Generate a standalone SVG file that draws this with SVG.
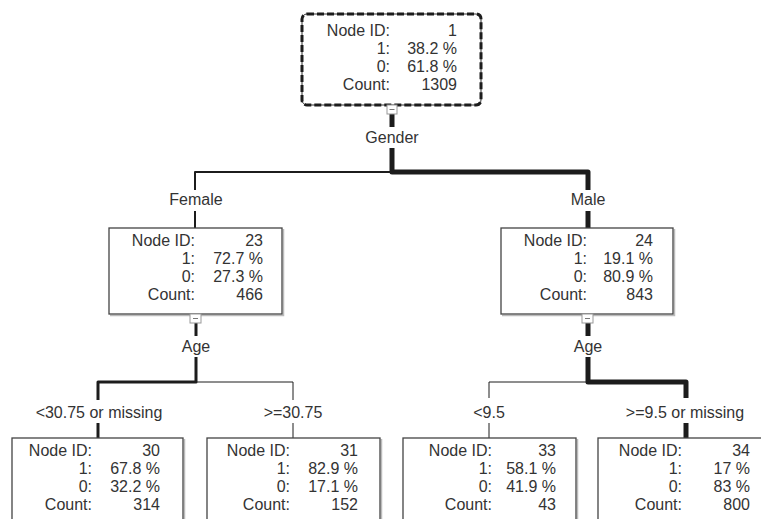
<svg xmlns="http://www.w3.org/2000/svg" width="761" height="519" viewBox="0 0 761 519">
<style>
text{font-family:"Liberation Sans",Arial,sans-serif;font-size:16px;fill:#333}
.l{text-anchor:end}
.c{text-anchor:middle}
.box{fill:#fff;stroke:#444;stroke-width:1.3}
.shadow{fill:none;stroke:#bbb;stroke-width:1.5}
.mb{fill:#fff;stroke:#999;stroke-width:1}
.mm{stroke:#777;stroke-width:1}
.e{fill:none;stroke:#1c1c1c;stroke-linejoin:round}
</style>
<rect width="761" height="519" fill="#fff"/>
<g id="connectors">
<line class="e" x1="392" y1="114" x2="392" y2="127" stroke-width="5"/>
<path class="e" d="M392,172 H195 V190" stroke-width="2"/>
<path class="e" d="M392,148 V172 H588 V190" stroke-width="5"/>
<line class="e" x1="195" y1="211" x2="195" y2="228" stroke-width="2"/>
<line class="e" x1="588" y1="211" x2="588" y2="228" stroke-width="5"/>
<line class="e" x1="196" y1="323" x2="196" y2="336" stroke-width="3"/>
<path class="e" d="M196,382 H293 V400" stroke-width="1"/>
<path class="e" d="M196,357 V382 H98 V400" stroke-width="3"/>
<line class="e" x1="98" y1="423" x2="98" y2="438" stroke-width="3"/>
<line class="e" x1="293" y1="423" x2="293" y2="438" stroke-width="1"/>
<line class="e" x1="588" y1="323" x2="588" y2="336" stroke-width="5"/>
<path class="e" d="M588,382 H489 V398" stroke-width="1"/>
<path class="e" d="M588,357 V382 H686 V398" stroke-width="5"/>
<line class="e" x1="489" y1="423" x2="489" y2="438" stroke-width="1"/>
<line class="e" x1="686" y1="423" x2="686" y2="438" stroke-width="5"/>
<text class="c" x="392" y="143">Gender</text>
<text class="c" x="196" y="205">Female</text>
<text class="c" x="588" y="205">Male</text>
<text class="c" x="196" y="352">Age</text>
<text class="c" x="588" y="352">Age</text>
<text class="c" x="99" y="418">&lt;30.75 or missing</text>
<text class="c" x="293" y="418">&gt;=30.75</text>
<text class="c" x="489" y="418">&lt;9.5</text>
<text class="c" x="685" y="418">&gt;=9.5 or missing</text>
</g>
<g id="node1">
<rect x="302" y="14" width="179" height="91" rx="5" fill="#fff" stroke="#333" stroke-width="1"/>
<rect x="302" y="14" width="179" height="91" rx="5" fill="none" stroke="#1c1c1c" stroke-width="3" stroke-dasharray="7 3"/>
<text class="l" x="390" y="36">Node ID:</text><text class="l" x="457" y="36">1</text>
<text class="l" x="390" y="54">1:</text><text class="l" x="457" y="54">38.2 %</text>
<text class="l" x="390" y="72">0:</text><text class="l" x="457" y="72">61.8 %</text>
<text class="l" x="390" y="90">Count:</text><text class="l" x="457" y="90">1309</text>
<rect class="mb" x="387" y="105" width="10" height="9"/><line class="mm" x1="389.5" y1="109.5" x2="394.5" y2="109.5"/>
</g>
<g id="node23">
<path class="shadow" d="M110,315.5 H283.5 V229"/>
<rect class="box" x="109" y="228" width="173" height="86"/>
<text class="l" x="195" y="246">Node ID:</text><text class="l" x="263" y="246">23</text>
<text class="l" x="195" y="264">1:</text><text class="l" x="263" y="264">72.7 %</text>
<text class="l" x="195" y="282">0:</text><text class="l" x="263" y="282">27.3 %</text>
<text class="l" x="195" y="300">Count:</text><text class="l" x="263" y="300">466</text>
<rect class="mb" x="190" y="314" width="11" height="9"/><line class="mm" x1="193" y1="318.5" x2="198" y2="318.5"/>
</g>
<g id="node24">
<path class="shadow" d="M502,315.5 H674.5 V229"/>
<rect class="box" x="501" y="228" width="172" height="86"/>
<text class="l" x="587" y="246">Node ID:</text><text class="l" x="653" y="246">24</text>
<text class="l" x="587" y="264">1:</text><text class="l" x="653" y="264">19.1 %</text>
<text class="l" x="587" y="282">0:</text><text class="l" x="653" y="282">80.9 %</text>
<text class="l" x="587" y="300">Count:</text><text class="l" x="653" y="300">843</text>
<rect class="mb" x="582" y="314" width="11" height="9"/><line class="mm" x1="585" y1="318.5" x2="590" y2="318.5"/>
</g>
<g id="node30">
<path class="shadow" d="M184.5,439 V530"/>
<rect class="box" x="12" y="438" width="171" height="100"/>
<text class="l" x="92" y="456">Node ID:</text><text class="l" x="160" y="456">30</text>
<text class="l" x="92" y="474">1:</text><text class="l" x="160" y="474">67.8 %</text>
<text class="l" x="92" y="492">0:</text><text class="l" x="160" y="492">32.2 %</text>
<text class="l" x="92" y="510">Count:</text><text class="l" x="160" y="510">314</text>
</g>
<g id="node31">
<path class="shadow" d="M381.5,439 V530"/>
<rect class="box" x="207" y="438" width="173" height="100"/>
<text class="l" x="290" y="456">Node ID:</text><text class="l" x="358" y="456">31</text>
<text class="l" x="290" y="474">1:</text><text class="l" x="358" y="474">82.9 %</text>
<text class="l" x="290" y="492">0:</text><text class="l" x="358" y="492">17.1 %</text>
<text class="l" x="290" y="510">Count:</text><text class="l" x="358" y="510">152</text>
</g>
<g id="node33">
<path class="shadow" d="M577.5,439 V530"/>
<rect class="box" x="403" y="438" width="173" height="100"/>
<text class="l" x="492" y="456">Node ID:</text><text class="l" x="556" y="456">33</text>
<text class="l" x="492" y="474">1:</text><text class="l" x="556" y="474">58.1 %</text>
<text class="l" x="492" y="492">0:</text><text class="l" x="556" y="492">41.9 %</text>
<text class="l" x="492" y="510">Count:</text><text class="l" x="556" y="510">43</text>
</g>
<g id="node34">
<rect class="box" x="598" y="438" width="173" height="100"/>
<text class="l" x="682" y="456">Node ID:</text><text class="l" x="750" y="456">34</text>
<text class="l" x="682" y="474">1:</text><text class="l" x="750" y="474">17 %</text>
<text class="l" x="682" y="492">0:</text><text class="l" x="750" y="492">83 %</text>
<text class="l" x="682" y="510">Count:</text><text class="l" x="750" y="510">800</text>
</g>
</svg>
